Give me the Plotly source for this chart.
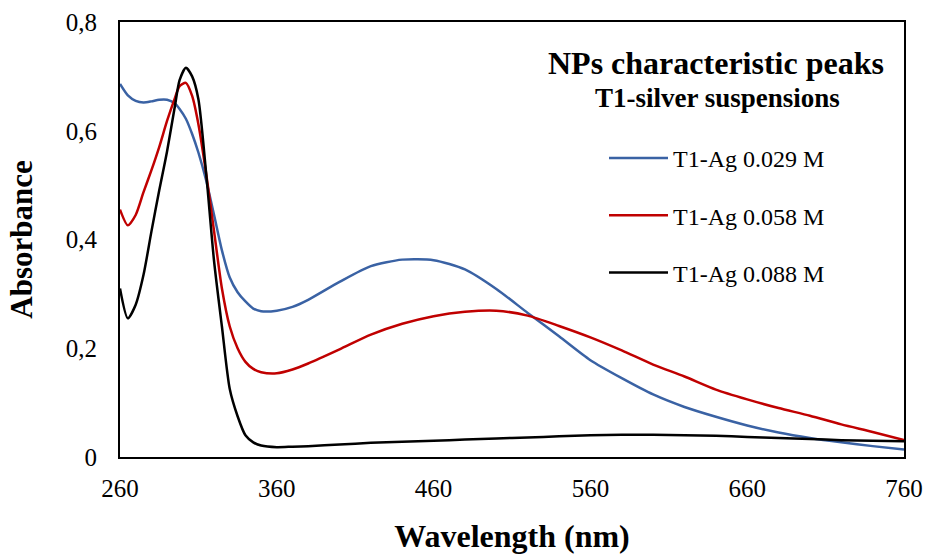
import plotly.graph_objects as go

wavelength = [260, 265, 270, 275, 280, 285, 290, 295, 298, 302, 306, 310, 315, 320, 325, 330, 335, 340, 345, 350,
              360, 370, 380, 400, 420, 440, 460, 480, 500, 520, 540, 560, 580, 600, 620, 640, 660, 680, 700,
              720, 740, 760]

ag_0029 = [0.686, 0.665, 0.655, 0.652, 0.654, 0.657, 0.657, 0.650, 0.640, 0.622, 0.594, 0.560, 0.508, 0.445,
           0.380, 0.330, 0.303, 0.286, 0.273, 0.268, 0.269, 0.276, 0.289, 0.322, 0.351, 0.363, 0.362, 0.345,
           0.309, 0.265, 0.222, 0.178, 0.145, 0.115, 0.092, 0.074, 0.058, 0.045, 0.035, 0.027, 0.020, 0.014]

ag_0058 = [0.455, 0.426, 0.445, 0.487, 0.527, 0.570, 0.618, 0.660, 0.682, 0.688, 0.664, 0.612, 0.520, 0.415,
           0.310, 0.240, 0.200, 0.175, 0.162, 0.156, 0.154, 0.161, 0.172, 0.198, 0.225, 0.245, 0.259, 0.267,
           0.269, 0.260, 0.241, 0.220, 0.196, 0.170, 0.148, 0.124, 0.106, 0.090, 0.076, 0.060, 0.046, 0.031]

ag_0088 = [0.310, 0.255, 0.280, 0.335, 0.414, 0.490, 0.562, 0.645, 0.693, 0.716, 0.700, 0.658, 0.520, 0.360,
           0.240, 0.125, 0.075, 0.040, 0.027, 0.021, 0.018, 0.019, 0.020, 0.023, 0.026, 0.028, 0.030, 0.032,
           0.034, 0.036, 0.038, 0.040, 0.041, 0.041, 0.040, 0.039, 0.037, 0.035, 0.033, 0.031, 0.030, 0.029]

series_names = ["T1-Ag 0.029 M", "T1-Ag 0.058 M", "T1-Ag 0.088 M"]
series_colors = ["#3A62A4", "#C00000", "#000000"]

x_ticks = [260, 360, 460, 560, 660, 760]
y_ticks = [0, 0.2, 0.4, 0.6, 0.8]
y_tick_text = ["0", "0,2", "0,4", "0,6", "0,8"]

FONT = "Liberation Serif"

W, H = 928, 554
ML, MR, MT, MB = 120, 24, 22, 97
PW, PH = W - ML - MR, H - MT - MB


def px_x(sx):
    return (sx - ML) / PW


def px_y(sy):
    return 1 - (sy - MT) / PH


fig = go.Figure()
for name, ys, col in zip(series_names, [ag_0029, ag_0058, ag_0088], series_colors):
    fig.add_trace(go.Scatter(x=wavelength, y=ys, mode="lines", name=name, legendgroup=name,
                             line=dict(color=col, width=2.5, shape="spline", smoothing=0.7)))

fig.update_layout(
    width=W, height=H,
    margin=dict(l=ML, r=MR, t=MT, b=MB, autoexpand=False),
    paper_bgcolor="white", plot_bgcolor="white",
    font=dict(family=FONT, color="black"),
    showlegend=True,
    legend=dict(x=px_x(604), y=px_y(136), xanchor="left", yanchor="top", bgcolor="rgba(0,0,0,0)",
                font=dict(size=24, family=FONT), tracegroupgap=23, itemwidth=59),
    xaxis=dict(range=[260, 760], tickvals=x_ticks, ticks="outside", ticklen=8, automargin=False,
               tickcolor="rgba(0,0,0,0)", showgrid=False, zeroline=False,
               showline=True, linecolor="black", linewidth=2, mirror=True,
               tickfont=dict(size=25, family=FONT),
               title=dict(text="<b>Wavelength (nm)</b>", font=dict(size=32, family=FONT), standoff=28)),
    yaxis=dict(range=[0, 0.8], tickvals=y_ticks, ticktext=y_tick_text, ticks="outside", ticklen=16,
               automargin=False,
               tickcolor="rgba(0,0,0,0)", showgrid=False, zeroline=False,
               showline=True, linecolor="black", linewidth=2, mirror=True,
               tickfont=dict(size=25, family=FONT),
               title=dict(text="<b>Absorbance</b>", font=dict(size=31, family=FONT), standoff=24)),
    annotations=[
        dict(text="<b>NPs characteristic peaks</b>", xref="paper", yref="paper",
             x=px_x(716), y=px_y(63), xanchor="center", yanchor="middle",
             showarrow=False, font=dict(size=32, family=FONT)),
        dict(text="<b>T1-silver suspensions</b>", xref="paper", yref="paper",
             x=px_x(717), y=px_y(98), xanchor="center", yanchor="middle",
             showarrow=False, font=dict(size=27, family=FONT)),
    ],
)

# remove the browser's default page margin so the 928x554 figure fills the window exactly
fig.write_html("out.html", config={"displayModeBar": False},
               post_script="document.body.style.margin='0';document.body.style.overflow='hidden';")
